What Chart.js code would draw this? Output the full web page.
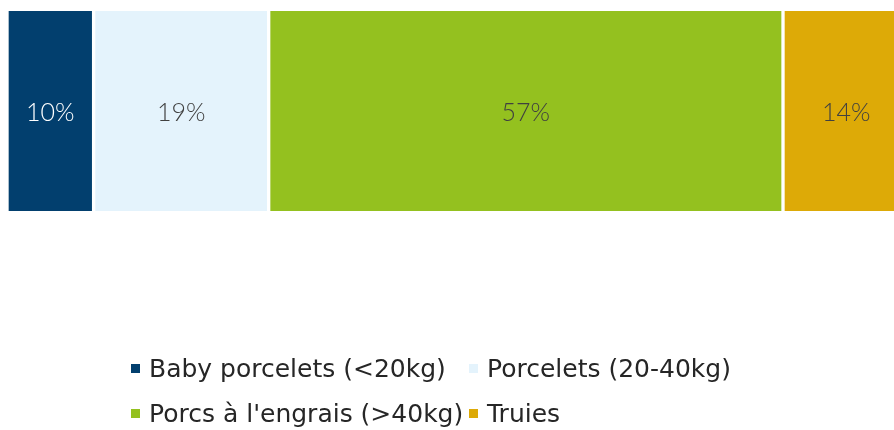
<!DOCTYPE html>
<html>
<head>
<meta charset="utf-8">
<script src="https://cdn.jsdelivr.net/npm/chart.js@4.4.1/dist/chart.umd.min.js"></script>
<style>
    html, body { margin: 0; padding: 0; background: #ffffff; }
    #wrap { position: relative; width: 894px; height: 430px; }
    #legend {
        position: absolute; left: 131px; top: 346px;
        display: grid; grid-template-columns: 338px auto;
        font-family: "DejaVu Sans", sans-serif; font-size: 25px; color: #262626;
    }
    #legend .item { display: flex; align-items: center; height: 45px; white-space: nowrap; }
    #legend .box { width: 9px; height: 9px; margin-right: 9px; flex: none; }
</style>
</head>
<body>
<div id="wrap">
    <canvas id="stockChart" width="894" height="430"></canvas>
    <div id="legend"></div>
</div>
<script>
// Categories and shares (%)
const categories = ["Baby porcelets (<20kg)", "Porcelets (20-40kg)", "Porcs à l'engrais (>40kg)", "Truies"];
const shares = [9.6, 19.4, 57.0, 14.0];
const colors = ["#023F6E", "#E4F3FC", "#94C11F", "#DDAA07"];
const labelColors = ["#ffffff", "#404040", "#404040", "#404040"];
const rowLabels = [""];
const axisMax = 98.3; // the last bar runs past the right edge in the original

// Draw the percentage inside each bar segment
const barLabels = {
    id: "barLabels",
    afterDatasetsDraw(chart) {
        const ctx = chart.ctx;
        ctx.save();
        ctx.font = "300 25px Lato, sans-serif";
        ctx.textAlign = "center";
        ctx.textBaseline = "middle";
        chart.data.datasets.forEach((ds, i) => {
            const bar = chart.getDatasetMeta(i).data[0];
            const { x, base, y } = bar.getProps(["x", "base", "y"], true);
            ctx.fillStyle = labelColors[i];
            ctx.fillText(Math.round(ds.data[0]) + "%", (x + base) / 2, y + 2);
        });
        ctx.restore();
    }
};

const ctx = document.getElementById("stockChart").getContext("2d");
const stockChart = new Chart(ctx, {
    type: "bar",
    data: {
        labels: rowLabels,
        datasets: categories.map((name, i) => ({
            label: name,
            data: [shares[i]],
            backgroundColor: colors[i],
            borderColor: "#ffffff",
            borderWidth: { left: 2, right: 2, top: 0, bottom: 0 },
            borderSkipped: false,
            barPercentage: 1,
            categoryPercentage: 1
        }))
    },
    options: {
        indexAxis: "y",
        responsive: false,
        animation: false,
        layout: { padding: { left: 7, right: 0, top: 11, bottom: 219 } },
        plugins: {
            legend: { display: false },
            tooltip: { enabled: false }
        },
        scales: {
            x: { stacked: true, min: 0, max: axisMax, display: false },
            y: { stacked: true, display: false }
        }
    },
    plugins: [barLabels]
});

// HTML legend laid out in two columns like the original
const legendEl = document.getElementById("legend");
stockChart.data.datasets.forEach(ds => {
    const item = document.createElement("div");
    item.className = "item";
    const box = document.createElement("span");
    box.className = "box";
    box.style.background = ds.backgroundColor;
    const text = document.createElement("span");
    text.textContent = ds.label;
    item.appendChild(box);
    item.appendChild(text);
    legendEl.appendChild(item);
});
</script>
</body>
</html>
